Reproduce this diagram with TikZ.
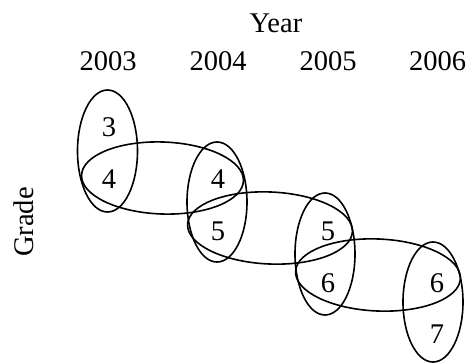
\documentclass[tikz,border=0pt]{standalone}
\usepackage{fontspec}
\setmainfont{Liberation Serif}
\begin{document}
\begin{tikzpicture}[x=1pt,y=-1pt,
  lbl/.style={inner sep=0pt,anchor=base,font=\fontsize{28.5}{30}\selectfont},
  ring/.style={line width=1.6pt}]
\useasboundingbox (0,0) rectangle (472,364);
% axis titles
\node[lbl] (year) at (276,32) {Year};
\node[lbl,rotate=90] (grade) at (33,222) {Grade};
% year headings
\node[lbl] (y3) at (108,70) {2003};
\node[lbl] (y4) at (218,70) {2004};
\node[lbl] (y5) at (328,70) {2005};
\node[lbl] (y6) at (437.5,70) {2006};
% grades per year
\node[lbl] (a3) at (109,136) {3};
\node[lbl] (a4) at (109,188) {4};
\node[lbl] (b4) at (218,188) {4};
\node[lbl] (b5) at (218,240) {5};
\node[lbl] (c5) at (328,240) {5};
\node[lbl] (c6) at (328,292) {6};
\node[lbl] (d6) at (437,292) {6};
\node[lbl] (d7) at (437,343) {7};
% grouping within a year
\draw[ring] (107.5,151) ellipse [x radius=30, y radius=61];
\draw[ring] (217,202) ellipse [x radius=30, y radius=60];
\draw[ring] (325,254) ellipse [x radius=30, y radius=61];
\draw[ring] (433,302) ellipse [x radius=30, y radius=60];
% grouping across consecutive years
\draw[ring,rotate around={-2:(162.5,178)}] (162.5,178) ellipse [x radius=81, y radius=36];
\draw[ring,rotate around={-2.5:(270,228)}] (270,228) ellipse [x radius=82.5, y radius=36];
\draw[ring,rotate around={-2.5:(378,275)}] (378,275) ellipse [x radius=82.5, y radius=36];
\end{tikzpicture}
\end{document}
